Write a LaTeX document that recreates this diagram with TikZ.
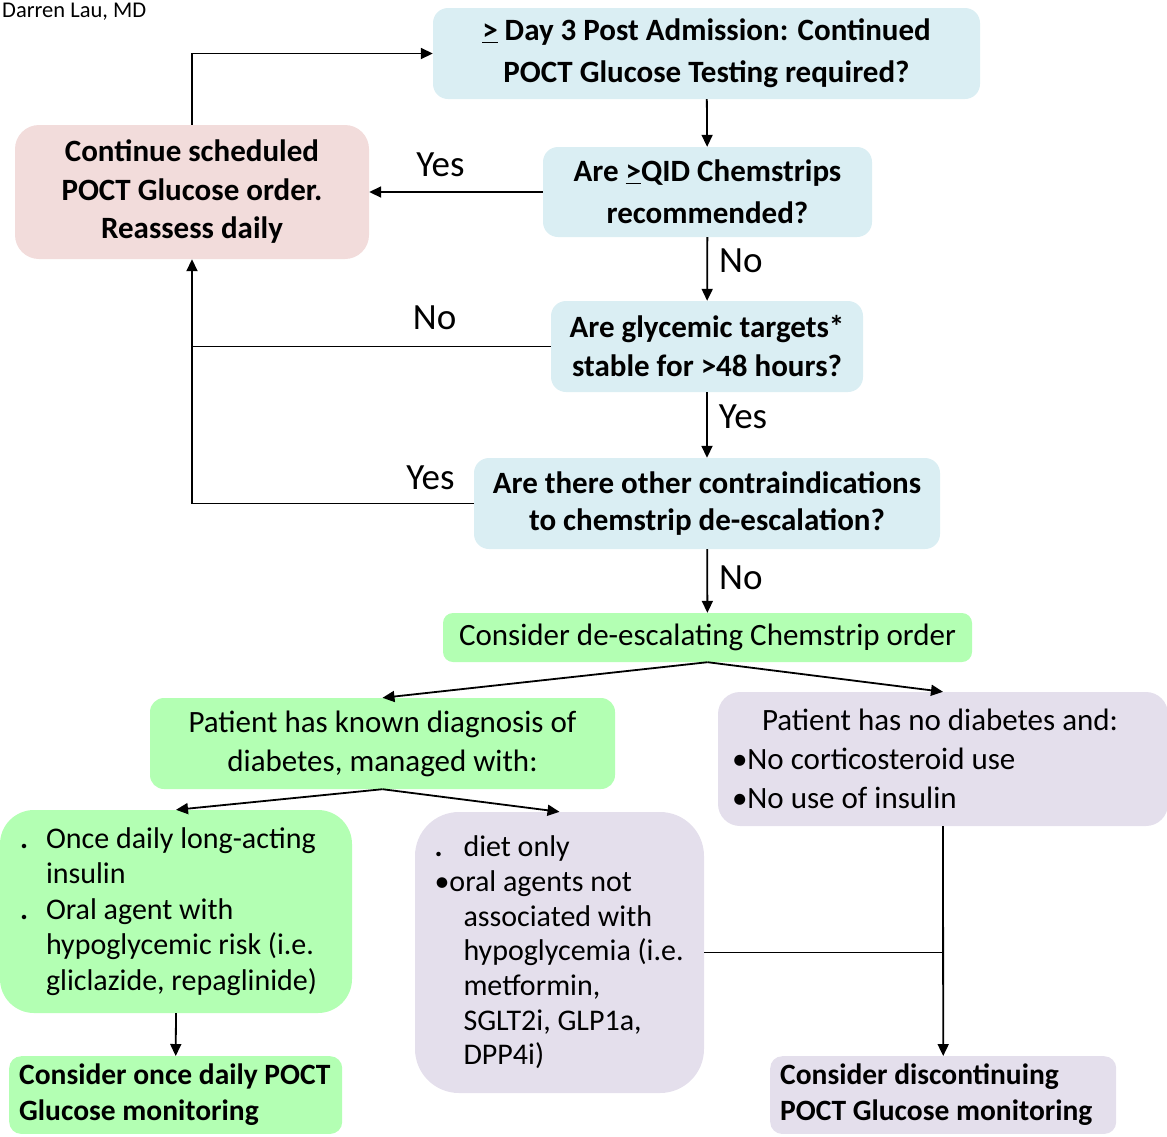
\documentclass[tikz,border=0pt]{standalone}
\usepackage{fontspec}
\setmainfont{Carlito}
\usetikzlibrary{positioning, calc, arrows.meta}

\definecolor{askblue}{HTML}{DAEEF3}
\definecolor{holdpink}{HTML}{F2DCDB}
\definecolor{stepgreen}{HTML}{B3FFB3}
\definecolor{stoplav}{HTML}{E4DFEC}

\begin{document}
\begin{tikzpicture}[
    x=1pt, y=-1pt,
    askbox/.style={fill=askblue, rounded corners=15pt, align=center, inner sep=0pt,
        font=\fontsize{31}{39}\selectfont\bfseries},
    holdbox/.style={askbox, fill=holdpink, rounded corners=24pt,
        font=\fontsize{31}{38.5}\selectfont\bfseries},
    stepbox/.style={fill=stepgreen, rounded corners=14pt, align=center, inner sep=0pt,
        font=\fontsize{31}{39}\selectfont},
    stopbox/.style={stepbox, fill=stoplav},
    listbox/.style={align=flush left, inner ysep=0pt, font=\fontsize{30}{35.5}\selectfont},
    endbox/.style={anchor=north west, align=flush left, inner xsep=10pt, inner ysep=8pt,
        rounded corners=12pt, font=\fontsize{29.5}{36}\selectfont\bfseries},
    ans/.style={inner sep=2pt, font=\fontsize{37}{40}\selectfont},
    flow/.style={line width=1.8pt},
    >={Triangle[length=12pt, width=11pt]},
]
    \useasboundingbox (0,0) rectangle (1167,1136);
    \clip (0,0) rectangle (1167,1136);

    \node[anchor=west, inner sep=0pt, font=\fontsize{22.5}{27}\selectfont] (byline) at (2,12) {Darren Lau, MD};

    % questions
    \node[askbox, minimum width=547pt, minimum height=91pt, font=\fontsize{31}{42}\selectfont\bfseries]
        (admit) at (706.5,53.5)
        {\underline{>} Day 3 Post Admission: Continued\\POCT Glucose Testing required?};
    \node[holdbox, minimum width=354pt, minimum height=134pt] (hold) at (192,192)
        {Continue scheduled\\POCT Glucose order.\\Reassess daily};
    \node[askbox, minimum width=329pt, minimum height=90pt, font=\fontsize{31}{42}\selectfont\bfseries]
        (strips) at (707.5,192)
        {Are \underline{>}QID Chemstrips\\recommended?};
    \node[askbox, minimum width=312pt, minimum height=91pt] (targets) at (707,346.5)
        {Are glycemic targets*\\stable for >48 hours?};
    \node[askbox, minimum width=466pt, minimum height=91pt, font=\fontsize{31}{37.5}\selectfont\bfseries]
        (contra) at (707,503.5)
        {Are there other contraindications\\to chemstrip de-escalation?};

    % outcomes
    \node[stepbox, minimum width=529pt, minimum height=49pt, rounded corners=10pt] (deesc) at (707.5,637.5)
        {Consider de-escalating Chemstrip order};
    \node[stepbox, minimum width=465pt, minimum height=91pt] (known) at (382.5,743.5)
        {Patient has known diagnosis of\\diabetes, managed with:};
    \node[stopbox, listbox, font=\fontsize{31}{39}\selectfont, inner xsep=14pt, text width=422pt,
        minimum height=134pt, rounded corners=22pt] (nodiab) at (943,759)
        {\hspace*{30pt}Patient has no diabetes and:\\•No corticosteroid use\\•No use of insulin};
    \node[stepbox, listbox, inner xsep=20pt, text width=312pt, minimum height=203pt,
        rounded corners=34pt] (hyporisk) at (176,911.5)
        {\makebox[26pt][l]{\textbf{.}}Once daily long-acting\\\hspace*{26pt}insulin\\
         \makebox[26pt][l]{\textbf{.}}Oral agent with\\\hspace*{26pt}hypoglycemic risk (i.e.\\
         \hspace*{26pt}gliclazide, repaglinide)};
    \node[stopbox, listbox, font=\fontsize{30}{34.7}\selectfont, inner xsep=19.5pt, text width=250pt,
        minimum height=281pt, rounded corners=44pt] (lowrisk) at (559.5,952.5)
        {\makebox[29pt][l]{\textbf{.}}diet only\\•oral agents not\\\hspace*{29pt}associated with\\
         \hspace*{29pt}hypoglycemia (i.e.\\\hspace*{29pt}metformin,\\
         \hspace*{29pt}SGLT2i, GLP1a,\\\hspace*{29pt}DPP4i)};
    \node[endbox, fill=stepgreen, text width=313pt] (once) at (9,1056)
        {Consider once daily POCT\\Glucose monitoring};
    \node[endbox, fill=stoplav, text width=326pt] (stop) at (770,1056)
        {Consider discontinuing\\POCT Glucose monitoring};

    \coordinate (bend) at (targets.west -| hold.south);

    \draw[flow, ->] (hold.north) |- (admit.west);
    \draw[flow, ->] (admit) -- (strips);
    \draw[flow, ->] (strips) -- node[ans, above=12pt, pos=0.59] (yes1) {Yes} (hold);
    \draw[flow, ->] (strips) -- node[ans, right=9pt, pos=0.375] (no1) {No} (targets);
    \draw[flow, ->] (targets.west) -| node[ans, above=14pt, pos=0.162] (no2) {No} (hold.south);
    \draw[flow, ->] (targets) -- node[ans, right=9pt, pos=0.38] (yes2) {Yes} (contra);
    \draw[flow] (contra.west) -| node[ans, above=11pt, pos=0.077] (yes3) {Yes} (bend);
    \draw[flow, ->] (contra) -- node[ans, right=9pt, pos=0.45] (no3) {No} (deesc);

    \draw[flow, ->] (deesc.south) -- (known.north);
    \draw[flow, ->] (deesc.south) -- (nodiab.north);
    \draw[flow, ->] (known.south) -- (hyporisk.north);
    \draw[flow, ->] (known.south) -- (lowrisk.north);
    \draw[flow, ->] (hyporisk.south) -- (once.north);
    \draw[flow, ->] (nodiab.south) -- (stop.north);
    \draw[flow] (lowrisk.east) -- (lowrisk.east -| stop.north);

\end{tikzpicture}
\end{document}
